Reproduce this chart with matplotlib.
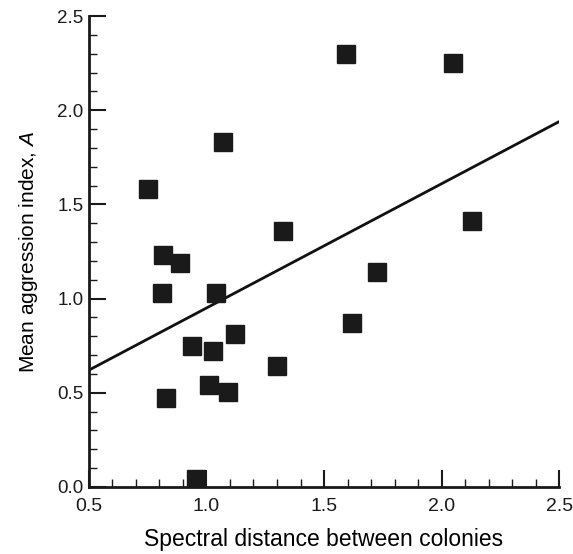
import numpy as np
import matplotlib
matplotlib.use('Agg')
import matplotlib.pyplot as plt
from matplotlib.ticker import MultipleLocator, FormatStrFormatter

plt.rcParams['font.family'] = ['Liberation Sans', 'DejaVu Sans']
plt.rcParams['mathtext.fontset'] = 'custom'
plt.rcParams['mathtext.it'] = 'Liberation Sans:italic'
plt.rcParams['mathtext.rm'] = 'Liberation Sans'

# colony pairs: spectral distance vs. mean aggression index
spectral_dist = [0.75, 0.815, 0.887, 0.81, 1.04, 0.94, 1.03, 1.12, 1.30, 1.01,
                 1.09, 0.83, 0.955, 1.07, 1.325, 1.594, 2.049, 2.13, 1.725, 1.62]
aggression = [1.58, 1.23, 1.19, 1.03, 1.03, 0.75, 0.72, 0.81, 0.64, 0.54,
              0.505, 0.47, 0.04, 1.83, 1.36, 2.30, 2.25, 1.41, 1.14, 0.87]

# regression line end points
fit_x = [0.5, 2.5]
fit_y = [0.62, 1.94]

fig = plt.figure(figsize=(5.73, 5.54), dpi=100)
ax = fig.add_axes([0.155, 0.121, 0.821, 0.850])

ax.plot(fit_x, fit_y, color='#111111', lw=2, zorder=2)
ax.plot(spectral_dist, aggression, 's', color='#1a1a1a', markersize=13, zorder=3)

ax.set_xlim(0.5, 2.5)
ax.set_ylim(0, 2.5)
ax.xaxis.set_major_locator(MultipleLocator(0.5))
ax.xaxis.set_minor_locator(MultipleLocator(0.1))
ax.yaxis.set_major_locator(MultipleLocator(0.5))
ax.yaxis.set_minor_locator(MultipleLocator(0.1))
ax.xaxis.set_major_formatter(FormatStrFormatter('%.1f'))
ax.yaxis.set_major_formatter(FormatStrFormatter('%.1f'))

for s in ['top', 'right']:
    ax.spines[s].set_visible(False)
for s in ['left', 'bottom']:
    ax.spines[s].set_linewidth(2)
    ax.spines[s].set_color('#1a1a1a')

ax.tick_params(which='major', direction='in', length=12, width=1.5, colors='#1a1a1a')
ax.tick_params(which='minor', direction='in', length=6, width=1, colors='#1a1a1a')
ax.tick_params(axis='x', which='major', labelsize=14, pad=8)
ax.tick_params(axis='y', which='major', labelsize=13.5, pad=4)

ax.set_xlabel('Spectral distance between colonies', fontsize=16.5, labelpad=9)
ax.set_ylabel(r'Mean aggression index, $\mathit{A}$', fontsize=15, labelpad=12)

fig.savefig('out.png', dpi=100)
